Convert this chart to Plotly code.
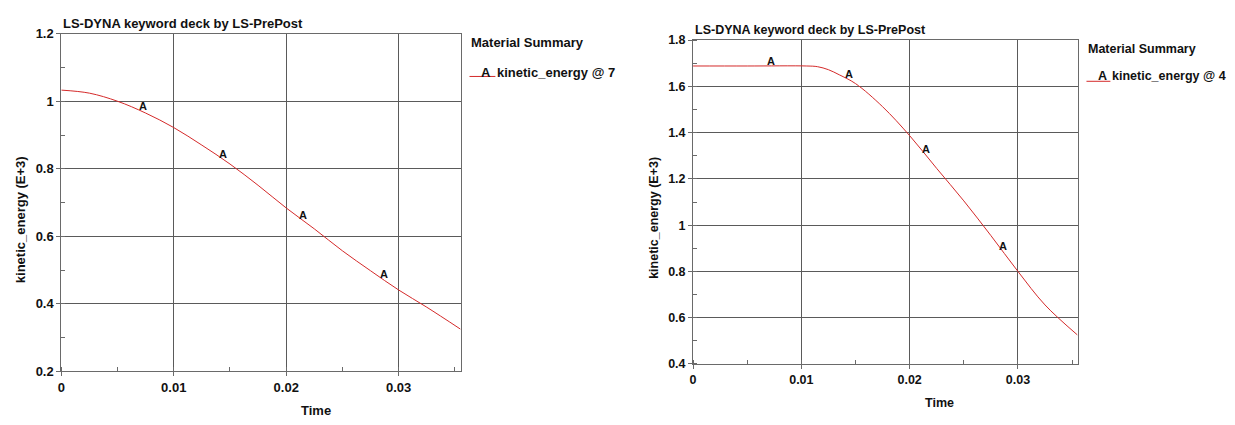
import numpy as np
import plotly.graph_objects as go

# ---------------- data ----------------
title_text = "LS-DYNA keyword deck by LS-PrePost"
legend_title = "Material Summary"
x_title = "Time"
y_title = "kinetic_energy (E+3)"

# Left chart: part 7
t_left = [0.0, 0.0025, 0.005, 0.0075, 0.01, 0.0125, 0.015, 0.0175,
          0.02, 0.0225, 0.025, 0.0275, 0.03, 0.0325, 0.0355]
e_left = [1.033, 1.024, 1.0, 0.965, 0.922, 0.870, 0.814, 0.751,
          0.684, 0.622, 0.557, 0.498, 0.441, 0.390, 0.325]
name_left = "kinetic_energy @ 7"

# Right chart: part 4
t_right = [0.0, 0.005, 0.0105, 0.0115, 0.0125, 0.0135, 0.015, 0.0175,
           0.02, 0.0225, 0.025, 0.0275, 0.03, 0.0325, 0.0355]
e_right = [1.688, 1.688, 1.688, 1.685, 1.672, 1.650, 1.612, 1.512,
           1.387, 1.245, 1.105, 0.955, 0.80, 0.655, 0.525]
name_right = "kinetic_energy @ 4"

label_times = [0.00714, 0.01429, 0.02143, 0.02857]
label_text = "A"

x_ticks = [0, 0.01, 0.02, 0.03]
x_tick_text = ["0", "0.01", "0.02", "0.03"]
y_ticks_left = [0.2, 0.4, 0.6, 0.8, 1.0, 1.2]
y_tick_text_left = ["0.2", "0.4", "0.6", "0.8", "1", "1.2"]
y_ticks_right = [0.4, 0.6, 0.8, 1.0, 1.2, 1.4, 1.6, 1.8]
y_tick_text_right = ["0.4", "0.6", "0.8", "1", "1.2", "1.4", "1.6", "1.8"]

# ---------------- figure ----------------
W, H = 1235, 425
FONT = "Liberation Sans, Arial, sans-serif"
RED = "#d42a2a"
GRID = "#5a5a5a"
FRAME = "#6a6a6a"
TXT = "#111111"


def px_x(p):
    return p / W


def px_y(p):
    return 1 - p / H


fig = go.Figure()
fig.add_trace(go.Scatter(x=t_left, y=e_left, mode="lines", name=name_left,
                         line=dict(color=RED, width=1, shape="spline", smoothing=1.0),
                         xaxis="x", yaxis="y", showlegend=False))
fig.add_trace(go.Scatter(x=t_right, y=e_right, mode="lines", name=name_right,
                         line=dict(color=RED, width=1, shape="spline", smoothing=1.0),
                         xaxis="x2", yaxis="y2", showlegend=False))


def tickfont(size):
    return dict(family=FONT, size=size, color=TXT, weight="bold")


common_x = dict(range=[0, 0.0355], tickvals=x_ticks, ticktext=x_tick_text,
                showgrid=True, gridcolor=GRID, gridwidth=1,
                showline=True, linecolor=FRAME, linewidth=1, mirror=True,
                ticks="outside", ticklen=4, tickcolor=FRAME,
                minor=dict(dtick=0.005, tick0=0, ticks="inside", ticklen=4,
                           tickcolor=FRAME, showgrid=False),
                zeroline=False, fixedrange=True)
common_y = dict(showgrid=True, gridcolor=GRID, gridwidth=1,
                showline=True, linecolor=FRAME, linewidth=1, mirror=True,
                ticks="outside", ticklen=4, tickcolor=FRAME,
                zeroline=False, fixedrange=True)

fig.update_layout(
    width=W, height=H,
    margin=dict(l=0, r=0, t=0, b=0),
    paper_bgcolor="white", plot_bgcolor="white",
    font=dict(family=FONT, size=13, color=TXT),
    xaxis=dict(common_x, domain=[px_x(57.5), px_x(458)], anchor="y",
               tickfont=tickfont(13)),
    yaxis=dict(common_y, domain=[px_y(377.7), px_y(27.7)], anchor="x",
               range=[0.2, 1.2], tickvals=y_ticks_left, ticktext=y_tick_text_left,
               tickfont=tickfont(13),
               minor=dict(dtick=0.1, tick0=0.2, ticks="inside", ticklen=4,
                          tickcolor=FRAME, showgrid=False)),
    xaxis2=dict(common_x, domain=[px_x(691.3), px_x(1077)], anchor="y2",
                tickfont=tickfont(12.5)),
    yaxis2=dict(common_y, domain=[px_y(370), px_y(34.3)], anchor="x2",
                range=[0.4, 1.8], tickvals=y_ticks_right, ticktext=y_tick_text_right,
                tickfont=tickfont(12.5),
                minor=dict(dtick=0.1, tick0=0.4, ticks="inside", ticklen=4,
                           tickcolor=FRAME, showgrid=False)),
    showlegend=False,
)

annotations = []
shapes = []

# "A" labels on curves
for tl, el, xa, ya in [(t_left, e_left, "x", "y"), (t_right, e_right, "x2", "y2")]:
    for lt in label_times:
        annotations.append(dict(x=lt, y=float(np.interp(lt, tl, el)), xref=xa, yref=ya,
                                text="<b>%s</b>" % label_text, showarrow=False,
                                font=dict(family=FONT, size=11, color=TXT),
                                xanchor="center", yanchor="middle", yshift=5, xshift=1))


def ann(x, y, text, size, anchor="left", angle=0):
    annotations.append(dict(x=px_x(x), y=px_y(y), xref="paper", yref="paper",
                            text="<b>%s</b>" % text, showarrow=False, textangle=angle,
                            xanchor=anchor, yanchor="middle",
                            font=dict(family=FONT, size=size, color=TXT)))


# titles, axis titles, legends (pixel positions)
panels = [
    dict(size=13, title=(57.5, 16.7), ytitle=(16, 220), xtitle=(313, 418),
         leg_title=(467, 36.7), leg_a=(477, 67.7), leg_item=(493, 67.7),
         leg_line=(467, 493, 72), name=name_left),
    dict(size=12.5, title=(691.3, 24), ytitle=(652.7, 219), xtitle=(939, 410),
         leg_title=(1086, 43.3), leg_a=(1096, 71.7), leg_item=(1110, 71.7),
         leg_line=(1086, 1110, 77), name=name_right),
]
for p in panels:
    s = p["size"]
    ann(*p["title"], title_text, s)
    ann(*p["ytitle"], y_title, s, anchor="center", angle=-90)
    ann(*p["xtitle"], x_title, s, anchor="center")
    ann(*p["leg_title"], legend_title, s)
    ann(*p["leg_a"], label_text, s)
    ann(*p["leg_item"], p["name"], s)
    x0, x1, yy = p["leg_line"]
    shapes.append(dict(type="line", xref="paper", yref="paper",
                       x0=px_x(x0), x1=px_x(x1), y0=px_y(yy), y1=px_y(yy),
                       line=dict(color=RED, width=1)))

fig.update_layout(annotations=annotations, shapes=shapes)
fig.write_html("out.html", config={"displayModeBar": False},
               post_script="document.body.style.margin='0';document.body.style.overflow='hidden';")
